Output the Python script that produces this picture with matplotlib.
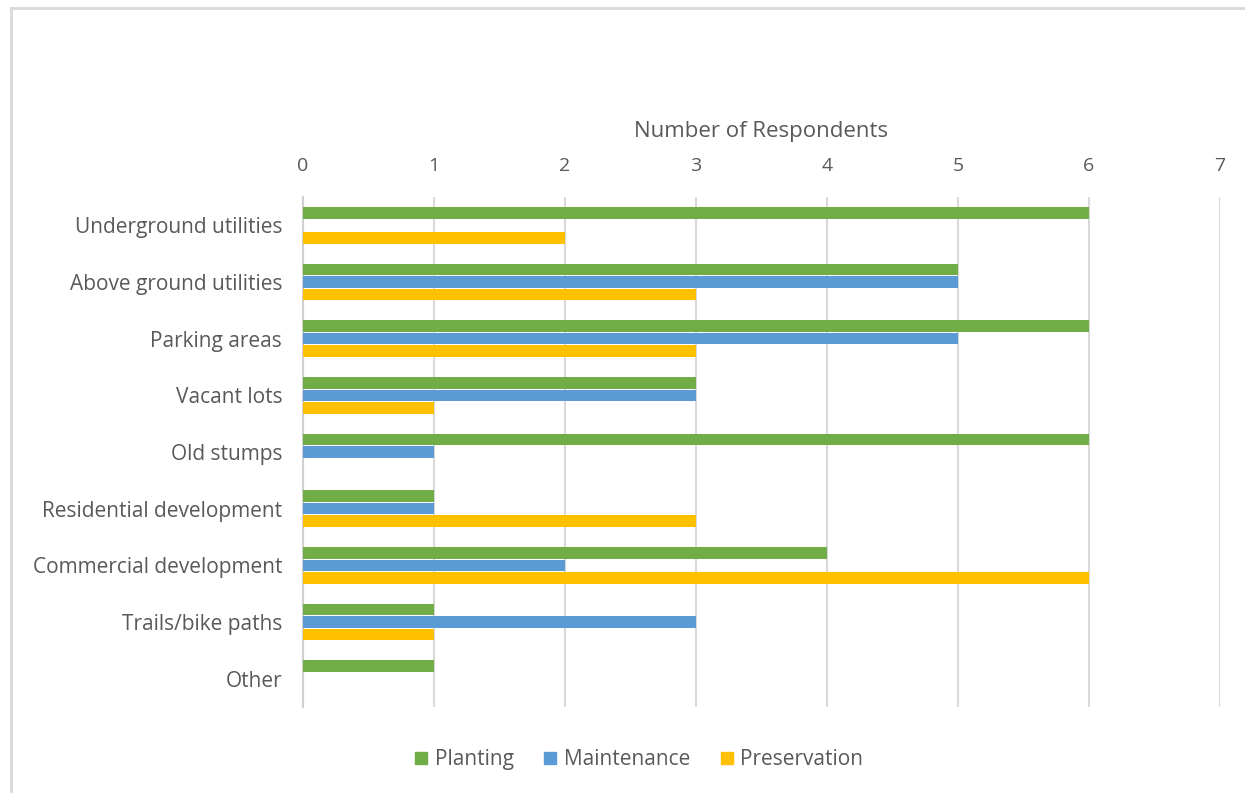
import numpy as np
import matplotlib.pyplot as plt
from matplotlib.lines import Line2D

categories = ["Underground utilities", "Above ground utilities", "Parking areas",
              "Vacant lots", "Old stumps", "Residential development",
              "Commercial development", "Trails/bike paths", "Other"]
planting = [6, 5, 6, 3, 6, 1, 4, 1, 1]
maintenance = [0, 5, 5, 3, 1, 1, 2, 3, 0]
preservation = [2, 3, 3, 1, 0, 3, 6, 1, 0]

series = [("Planting", planting, "#70AD47"),
          ("Maintenance", maintenance, "#5B9BD5"),
          ("Preservation", preservation, "#FFC000")]

plt.rcParams['font.family'] = ['Open Sans', 'DejaVu Sans']
text_col = "#595959"

fig = plt.figure(figsize=(12.45, 7.93), dpi=100)
ax = fig.add_axes([0.2434, 0.1084, 0.9799 - 0.2434, 0.7516 - 0.1084])

y = np.arange(len(categories))
h = 0.205
step = 0.22
for i, (name, vals, col) in enumerate(series):
    ax.barh(y + (i - 1) * step, vals, height=h, color=col, label=name, zorder=3)

ax.set_xlim(0, 7)
ax.set_ylim(len(categories) - 0.5, -0.5)
ax.set_yticks(y)
ax.set_yticklabels(categories, fontsize=15, color=text_col)
ax.set_xticks(range(8))
ax.xaxis.tick_top()
ax.xaxis.set_label_position("top")
ax.tick_params(axis='x', labelsize=14, labelcolor=text_col, length=0, pad=16)
ax.tick_params(axis='y', length=0, pad=15)
ax.set_xlabel("Number of Respondents", fontsize=16, color=text_col, labelpad=14)
ax.grid(axis='x', color="#d9d9d9", linewidth=1.5, zorder=0)
for s in ["top", "right", "bottom"]:
    ax.spines[s].set_visible(False)
ax.spines["left"].set_color("#d0d0d0")
ax.spines["left"].set_linewidth(1.5)

handles = [Line2D([], [], marker='s', linestyle='none', markersize=8,
                  markerfacecolor=c, markeredgecolor=c, label=n) for n, _, c in series]
fig.legend(handles=handles, loc='center', bbox_to_anchor=(0.513, 0.042), ncol=3,
           frameon=False, fontsize=15, labelcolor=text_col, handlelength=0.7,
           handletextpad=0.3, columnspacing=1.4)

# light frame around the chart area
fig.add_artist(Line2D([11 / 1245, 11 / 1245], [0, 1 - 8 / 793], transform=fig.transFigure,
                      color="#d9d9d9", linewidth=2))
fig.add_artist(Line2D([11 / 1245, 1], [1 - 8 / 793, 1 - 8 / 793], transform=fig.transFigure,
                      color="#d9d9d9", linewidth=2))

fig.savefig("out.png", dpi=100)
